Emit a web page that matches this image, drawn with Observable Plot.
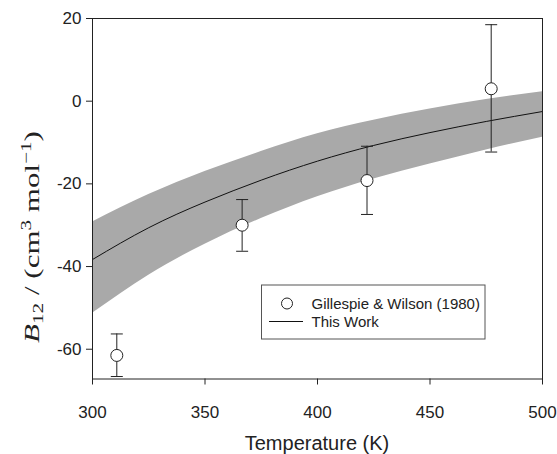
<!DOCTYPE html>
<html>
<head>
<meta charset="utf-8">
<script src="https://cdn.jsdelivr.net/npm/d3@7"></script>
<script src="https://cdn.jsdelivr.net/npm/@observablehq/plot@0.6"></script>
<style>
  html, body { margin: 0; padding: 0; background: #fff; }
  #chart { width: 557px; height: 454px; }
</style>
</head>
<body>
<div id="chart"></div>
<script>
// Measured points (Gillespie & Wilson, 1980)
const gwT     = [310.8, 366.5, 422.0, 477.2];
const gwB     = [-61.5, -30.0, -19.2, 3.0];
const gwLow   = [-66.6, -36.3, -27.4, -12.3];
const gwHigh  = [-56.3, -23.8, -10.9, 18.5];

// This work: curve and uncertainty band
const curveT     = [300, 325, 350, 375, 400, 425, 450, 475, 500];
const curveB     = [-38.3, -30.6, -24.4, -19.1, -14.5, -10.7, -7.6, -4.9, -2.5];
const bandUpper  = [-29.2, -22.6, -17.0, -12.2, -7.9, -4.6, -1.9, 0.4, 2.3];
const bandLower  = [-51.3, -42.1, -34.6, -28.4, -23.1, -18.8, -15.2, -11.8, -8.7];

const xTicks = [300, 350, 400, 450, 500];
const yTicks = [-60, -40, -20, 0, 20];

const points = gwT.map((t, i) => ({T: t, B: gwB[i], lo: gwLow[i], hi: gwHigh[i]}));
const curve = curveT.map((t, i) => ({T: t, B: curveB[i], up: bandUpper[i], lo: bandLower[i]}));

const capSymbol = { draw(ctx) { ctx.moveTo(-6, 0); ctx.lineTo(6, 0); } };

const ink = "#222";
const sans = "'Liberation Sans', Arial, sans-serif";

const plot = Plot.plot({
  width: 557,
  height: 454,
  marginLeft: 92,
  marginRight: 15,
  marginTop: 18,
  marginBottom: 75.5,
  style: { fontFamily: sans, color: ink, background: "#fff" },
  x: { domain: [300, 500] },
  y: { domain: [-67.2, 20] },
  marks: [
    Plot.areaY(curve, { x: "T", y1: "lo", y2: "up", fill: "#a9a9a9", curve: "natural" }),
    Plot.line(curve, { x: "T", y: "B", stroke: "#111", strokeWidth: 1, curve: "natural" }),
    Plot.ruleX(points, { x: "T", y1: "lo", y2: "hi", stroke: ink, strokeWidth: 1 }),
    Plot.dot(points, { x: "T", y: "lo", symbol: capSymbol, r: 6, stroke: ink, fill: "none", strokeWidth: 1 }),
    Plot.dot(points, { x: "T", y: "hi", symbol: capSymbol, r: 6, stroke: ink, fill: "none", strokeWidth: 1 }),
    Plot.dot(points, { x: "T", y: "B", r: 6, fill: "white", stroke: ink, strokeWidth: 1 }),
    Plot.frame({ stroke: ink, strokeWidth: 1 }),
    Plot.axisX({ ticks: xTicks, tickSize: 6, tickPadding: 21, fontSize: 17, label: null, tickFormat: d => String(d) }),
    Plot.axisY({ ticks: yTicks, tickSize: 6, tickPadding: 5, fontSize: 17, label: null, tickFormat: d => String(d) })
  ]
});

document.getElementById("chart").appendChild(plot);

// Axis titles and legend
const svg = d3.select(plot);

svg.append("text")
  .attr("x", 317).attr("y", 450)
  .attr("text-anchor", "middle")
  .attr("font-family", sans)
  .attr("font-size", 20)
  .attr("fill", ink)
  .text("Temperature (K)");

const yl = svg.append("text")
  .attr("transform", "translate(38.5,237) rotate(-90)")
  .attr("text-anchor", "middle")
  .attr("font-family", "'Liberation Serif', 'Times New Roman', serif")
  .attr("font-size", 22)
  .attr("fill", ink);
yl.append("tspan").attr("font-style", "italic").text("B");
yl.append("tspan").attr("font-size", 15).attr("dy", 4).text("12");
yl.append("tspan").attr("dy", -4).text(" / (cm");
yl.append("tspan").attr("font-size", 15).attr("dy", -8).text("3");
yl.append("tspan").attr("dy", 8).text(" mol");
yl.append("tspan").attr("font-size", 15).attr("dy", -8).text("−1");
yl.append("tspan").attr("dy", 8).text(")");
{
  const L = yl.node().getComputedTextLength();
  const target = 212;
  if (L > 0) {
    const s = Math.max(1, Math.min(1.5, target / L));
    yl.attr("transform", `translate(38.5,237) rotate(-90) scale(${s.toFixed(3)},1)`);
  }
}

const lg = svg.append("g");
lg.append("rect")
  .attr("x", 261.5).attr("y", 285).attr("width", 223.5).attr("height", 54)
  .attr("fill", "white").attr("stroke", "#555").attr("stroke-width", 1);
lg.append("circle")
  .attr("cx", 287).attr("cy", 303.5).attr("r", 5.5)
  .attr("fill", "white").attr("stroke", ink);
lg.append("line")
  .attr("x1", 269).attr("x2", 303).attr("y1", 321.5).attr("y2", 321.5)
  .attr("stroke", "#111");
lg.append("text")
  .attr("x", 311.5).attr("y", 303.5).attr("dy", "0.35em")
  .attr("text-anchor", "start")
  .attr("font-family", sans).attr("font-size", 15).attr("fill", ink)
  .text("Gillespie & Wilson (1980)");
lg.append("text")
  .attr("x", 311.5).attr("y", 321.5).attr("dy", "0.35em")
  .attr("text-anchor", "start")
  .attr("font-family", sans).attr("font-size", 15).attr("fill", ink)
  .text("This Work");
</script>
</body>
</html>
